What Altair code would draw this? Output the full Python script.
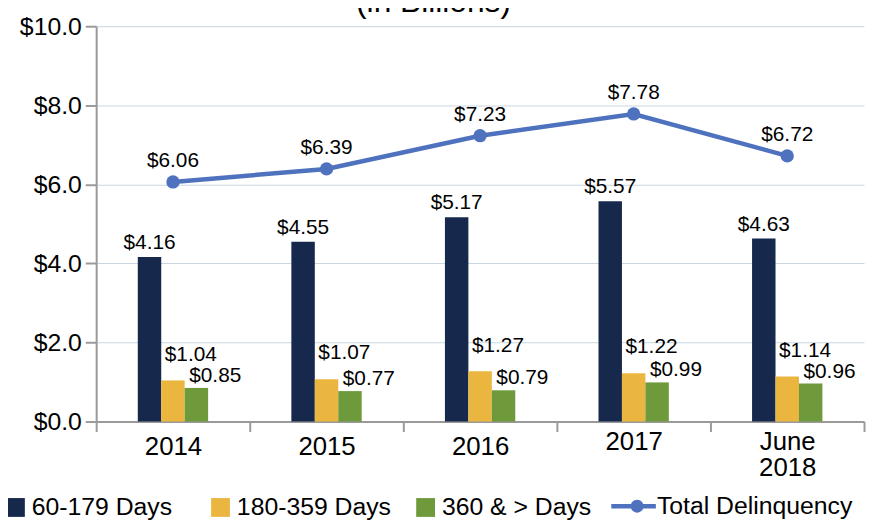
import altair as alt
import pandas as pd

# ---- data ----
years = ["2014", "2015", "2016", "2017", "June 2018"]
series_names = ["60-179 Days", "180-359 Days", "360 & > Days"]
days_60_179 = [4.16, 4.55, 5.17, 5.57, 4.63]
days_180_359 = [1.04, 1.07, 1.27, 1.22, 1.14]
days_360_plus = [0.85, 0.77, 0.79, 0.99, 0.96]
total_name = "Total Delinquency"
total_delinquency = [6.06, 6.39, 7.23, 7.78, 6.72]

bar_colors = ["#17284d", "#ebb640", "#6f9a3c"]
line_color = "#4f72bf"
FONT = "Liberation Sans"

rows = []
for i, yr in enumerate(years):
    for s, vals in zip(series_names, [days_60_179, days_180_359, days_360_plus]):
        rows.append({"year": yr, "series": s, "value": vals[i]})
bars_df = pd.DataFrame(rows)
total_df = pd.DataFrame({"year": years, "series": [total_name] * len(years),
                         "value": total_delinquency})

x_enc = alt.X(
    "year:N", sort=years,
    scale=alt.Scale(paddingInner=0, paddingOuter=0),
    axis=alt.Axis(
        title=None, labelAngle=0, tickBand="extent", grid=False,
        labelFontSize=26, labelLineHeight=26,
        labelExpr="datum.value == 'June 2018' ? ['June', '2018'] : datum.label",
        labelPadding={"condition": {"test": "datum.value == '2017' || datum.value == 'June 2018'",
                                    "value": -3}, "value": 2},
        domainColor="#9a9a9a", domainWidth=2, tickColor="#9a9a9a", tickWidth=2, tickSize=10,
    ),
)
y_enc = alt.Y(
    "value:Q",
    scale=alt.Scale(domain=[0, 10]),
    axis=alt.Axis(
        title=None, values=[0, 2, 4, 6, 8, 10], format="$.1f",
        labelFontSize=25, labelPadding=4,
        domainColor="#9a9a9a", domainWidth=2, tickColor="#9a9a9a", tickWidth=2, tickSize=11,
        gridColor="#c8d6e2", gridWidth=1,
    ),
)
# empty slots on each side of the three bars keep the group narrow inside each year band
offset_domain = ["_left"] + series_names + ["_right"]
xoff = alt.XOffset("series:N",
                   scale=alt.Scale(domain=offset_domain, paddingOuter=0.775, paddingInner=0))

bars = alt.Chart(bars_df).mark_bar().encode(
    x=x_enc, y=y_enc, xOffset=xoff,
    color=alt.Color(
        "series:N", sort=series_names,
        scale=alt.Scale(domain=series_names, range=bar_colors),
        legend=alt.Legend(
            orient="none", legendX=-94, legendY=473, direction="horizontal", title=None,
            symbolType="square", symbolSize=361, symbolStrokeWidth=0, gridAlign="all",
            columnPadding=22, labelOffset=4, labelFontSize=25, labelFont=FONT,
            labelLimit=300,
        ),
    ),
)

def bar_text(name, dx, dy, baseline):
    return alt.Chart(bars_df).transform_filter(
        alt.datum.series == name
    ).mark_text(font=FONT, fontSize=21, color="black", dx=dx, dy=dy, baseline=baseline).encode(
        x=x_enc, y=y_enc, xOffset=xoff,
        text=alt.Text("value:Q", format="$.2f"),
    )

t1 = bar_text(series_names[0], 0, -4, "bottom")
t2 = bar_text(series_names[1], 18, -26, "middle")
t3 = bar_text(series_names[2], 19, -12, "middle")

bar_layer = alt.layer(bars, t1, t2, t3)

# legend glyph: line with a dot (unit = half of sqrt(symbolSize))
legend_path = ("M-0.96,-0.1H1.04V0.1H-0.96Z "
               "M0.49,0A0.29,0.29 0 1,1 -0.09,0A0.29,0.29 0 1,1 0.49,0Z")

line = alt.Chart(total_df).mark_line(color=line_color, strokeWidth=4.5).encode(x=x_enc, y=y_enc)
points = alt.Chart(total_df).mark_point(filled=True, size=180, opacity=1, shape="circle").encode(
    x=x_enc, y=y_enc,
    color=alt.Color(
        "series:N",
        scale=alt.Scale(domain=[total_name], range=[line_color]),
        legend=alt.Legend(
            orient="none", legendX=519, legendY=462, title=None,
            symbolType=legend_path, symbolSize=2025, symbolOpacity=1, symbolStrokeWidth=0,
            labelOffset=2, labelFontSize=25, labelFont=FONT, labelLimit=300,
        ),
    ),
)
total_text = alt.Chart(total_df).mark_text(
    font=FONT, fontSize=21, color="black", dy=-21, baseline="middle"
).encode(x=x_enc, y=y_enc, text=alt.Text("value:Q", format="$.2f"))

line_layer = alt.layer(line, points, total_text)

chart = alt.layer(bar_layer, line_layer).resolve_scale(color="independent").properties(
    width=775, height=399,
    autosize=alt.AutoSizeParams(type="none"),
    padding={"left": 89, "top": 16, "right": 2, "bottom": 97},
    title=alt.TitleParams("(in Billions)", fontSize=32, font=FONT, fontWeight="normal",
                          color="black", anchor="middle", dx=-47, offset=-30,
                          baseline="alphabetic"),
).configure_axis(
    labelFont=FONT, labelColor="black"
).configure_legend(
    labelColor="black", labelFont=FONT
).configure_view(stroke=None)

chart.save("out.html", embed_options={"renderer": "svg", "actions": False})
